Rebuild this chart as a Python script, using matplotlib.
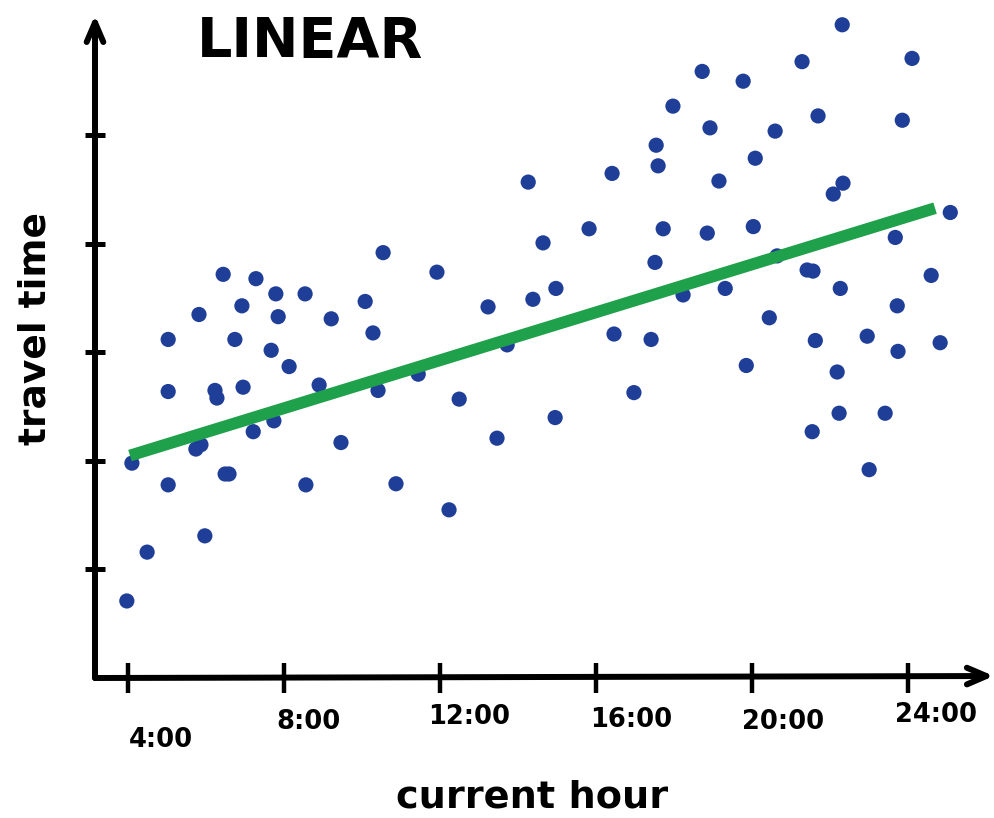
"""Scatter de tempo de viagem vs hora atual, com ajuste linear (estilo desenhado à mão)."""

import matplotlib
matplotlib.use("Agg")
import matplotlib.pyplot as plt

# hora atual (h) e tempo de viagem (unidades dos traços do eixo y)
hour = [
    10.54, 6.44, 7.28, 7.79, 8.54, 6.92, 10.08, 5.82, 7.85, 9.21,
    5.03, 6.74, 10.28, 7.67, 8.13, 5.03, 6.23, 6.28, 6.95, 8.90,
    10.41, 7.74, 7.21, 5.74, 5.87, 9.46, 4.10, 5.03, 6.49, 6.59,
    8.56, 10.87, 5.97, 4.49, 3.97,
    14.26, 16.41, 17.59, 15.82, 17.72, 14.64, 17.51, 11.92, 13.23, 14.38,
    14.97, 18.23, 13.72, 11.44, 16.46, 17.41, 12.49, 16.97, 14.95, 13.46,
    12.23, 17.54,
    22.31, 24.10, 21.28, 18.72, 19.77, 17.97, 21.69, 23.85, 18.92, 20.59,
    20.08, 19.15, 22.33, 22.08, 25.08, 18.85, 20.03, 23.67, 20.64, 21.41,
    21.56, 19.31, 22.26, 24.59, 23.72, 20.44, 21.62, 22.95, 23.74, 24.82,
    19.85, 22.18, 22.23, 23.41, 21.54, 23.00,
]
travel = [
    3.92, 3.72, 3.68, 3.54, 3.54, 3.43, 3.47, 3.35, 3.33, 3.31,
    3.12, 3.12, 3.18, 3.02, 2.87, 2.64, 2.65, 2.58, 2.68, 2.70,
    2.65, 2.37, 2.27, 2.11, 2.15, 2.17, 1.98, 1.78, 1.88, 1.88,
    1.78, 1.79, 1.31, 1.16, 0.71,
    4.57, 4.65, 4.72, 4.14, 4.14, 4.01, 3.83, 3.74, 3.42, 3.49,
    3.59, 3.53, 3.07, 2.80, 3.17, 3.12, 2.57, 2.63, 2.40, 2.21,
    1.55, 4.91,
    6.02, 5.71, 5.68, 5.59, 5.50, 5.27, 5.18, 5.14, 5.07, 5.04,
    4.79, 4.58, 4.56, 4.46, 4.29, 4.10, 4.16, 4.06, 3.89, 3.76,
    3.75, 3.59, 3.59, 3.71, 3.43, 3.32, 3.11, 3.15, 3.01, 3.09,
    2.88, 2.82, 2.44, 2.44, 2.27, 1.92,
]

fit_hour = [4.05, 24.69]
fit_travel = [2.05, 4.33]

xtick_hours = [4, 8, 12, 16, 20, 24]
xtick_labels = ["4:00", "8:00", "12:00", "16:00", "20:00", "24:00"]
ytick_vals = [1, 2, 3, 4, 5]

# deslocamento (px) dos rótulos escritos à mão em relação a cada traço
label_dx = [33, 24, 29, 35, 31, 28]
label_dy = [-62, -44, -39, -42, -44, -37]

FONT = "DejaVu Sans"
BLUE = "#1f3e98"
GREEN = "#1fa04a"

fig = plt.figure(figsize=(9.95, 8.18), dpi=100)
ax = fig.add_axes([95 / 995, 140 / 818, 890 / 995, 663 / 818])
ax.set_xlim(3.154, 25.97)
ax.set_ylim(0, 6.11)

ax.scatter(hour, travel, s=120, color=BLUE, edgecolors="none", zorder=3)
ax.plot(fit_hour, fit_travel, color=GREEN, lw=8.5, solid_capstyle="butt", zorder=4)

for side in ["top", "right", "left", "bottom"]:
    ax.spines[side].set_visible(False)

# eixos com setas
arrow = dict(arrowstyle="->,head_length=1.4,head_width=0.6", lw=4.3, color="black",
             shrinkA=0, shrinkB=0)
ax.annotate("", xy=(0, 1.0), xytext=(0, 0), xycoords="axes fraction", arrowprops=arrow)
ax.annotate("", xy=(1.01, 0.003), xytext=(0, 0), xycoords="axes fraction", arrowprops=arrow)

ax.set_xticks(xtick_hours)
ax.set_xticklabels([])
ax.set_yticks(ytick_vals)
ax.set_yticklabels([])
ax.tick_params(axis="x", direction="inout", length=22, width=3.2, color="black")
ax.tick_params(axis="y", direction="inout", length=15, width=3.6, color="black")

for h, lab, dx, dy in zip(xtick_hours, xtick_labels, label_dx, label_dy):
    ax.annotate(lab, xy=(h, 0), xycoords=("data", "axes fraction"),
                xytext=(dx, dy), textcoords="offset pixels",
                ha="center", va="center", fontsize=18.5, fontfamily=FONT,
                fontweight="bold", annotation_clip=False)

fig.text(310 / 995, 1 - 42 / 818, "LINEAR", ha="center", va="center",
         fontsize=40, fontfamily=FONT, fontweight="bold")
fig.text(36 / 995, 1 - 328 / 818, "travel time", ha="center", va="center",
         rotation=90, fontsize=27, fontfamily=FONT, fontweight="bold")
fig.text(532 / 995, 1 - 797 / 818, "current hour", ha="center", va="center",
         fontsize=27.5, fontfamily=FONT, fontweight="bold")

fig.savefig("out.png", dpi=100)
